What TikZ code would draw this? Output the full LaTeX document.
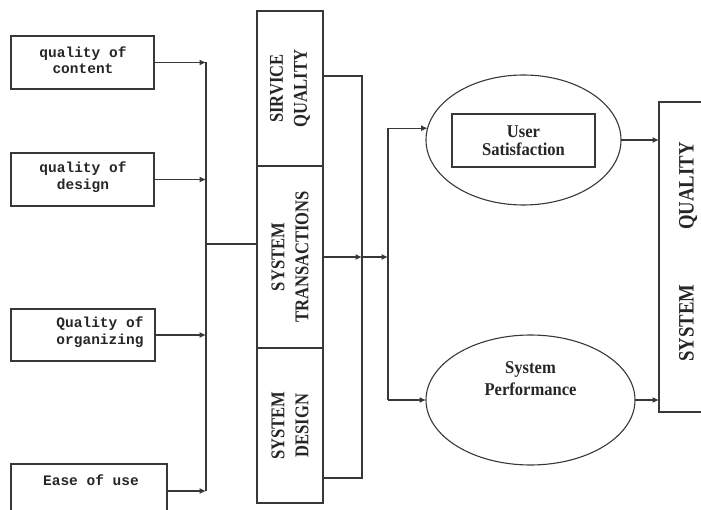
\documentclass[tikz,border=0pt]{standalone}
\usepackage{fontspec}
\setmainfont{Liberation Serif}
\newfontfamily\boxmono{Liberation Mono}
\newfontfamily\tallserif[FakeStretch=0.85]{Liberation Serif}
\newfontfamily\ovalserif[FakeStretch=0.92]{Liberation Serif}
\usetikzlibrary{arrows.meta,shapes.geometric}

\begin{document}
\begin{tikzpicture}[x=1pt,y=-1pt,
  line/.style={draw=black!78, line width=1.1pt},
  arr/.style={line, -{Latex[length=6.5pt,width=6pt]}},
  inbox/.style={line, rectangle, inner sep=0pt, outer sep=0pt},
  monotext/.style={text=black!85, inner sep=0pt, align=center,
    font=\boxmono\bfseries\fontsize{14.5}{16.5}\selectfont},
  coltext/.style={text=black!85, inner sep=0pt, align=center, rotate=90,
    font=\tallserif\bfseries\fontsize{19.5}{24}\selectfont},
  elltext/.style={text=black!85, inner sep=0pt, align=center,
    font=\ovalserif\bfseries\fontsize{18}{19}\selectfont},
  oval/.style={line, ellipse, inner sep=0pt, outer sep=0pt}
]
\useasboundingbox (0,0) rectangle (701,510);
\clip (0,0) rectangle (701,510);

% input factors on the left
\node[inbox, minimum width=143pt, minimum height=53pt] (q1) at (82.5,62.5) {};
\node[monotext] (q1t) at (83,60) {quality of\\content};
\node[inbox, minimum width=143pt, minimum height=53pt] (q2) at (82.5,179.5) {};
\node[monotext] (q2t) at (83,177) {quality of\\design};
\node[inbox, minimum width=144pt, minimum height=52pt] (q3) at (83,335) {};
\node[monotext] (q3t) at (100,332) {Quality of\\organizing};
\node[inbox, minimum width=156pt, minimum height=70pt] (q4) at (89,499) {};
\node[monotext] (q4t) at (91,480) {Ease of use};
\coordinate (q4out) at (167,491);

% collecting bus
\coordinate (bus) at (206,0);
\draw[arr] (q1.east) -- (q1.east -| bus);
\draw[arr] (q2.east) -- (q2.east -| bus);
\draw[arr] (q3.east) -- (q3.east -| bus);
\draw[arr] (q4out) -- (q4out -| bus);
\draw[line] (q1.east -| bus) -- (q4out -| bus);

% middle column
\node[inbox, minimum width=66pt, minimum height=155pt] (sq) at (290,88.5) {};
\node[coltext] (sqt) at (sq.center) {SIRVICE\\QUALITY};
\node[inbox, minimum width=66pt, minimum height=182pt] (st) at (290,257) {};
\node[coltext] (stt) at (st.center) {SYSTEM\\TRANSACTIONS};
\node[inbox, minimum width=66pt, minimum height=155pt] (sd) at (290,425.5) {};
\node[coltext] (sdt) at (sd.center) {SYSTEM\\DESIGN};

\draw[line] (bus |- 0,244) -- ([yshift=13pt]st.west);

% bracket on the right of the column
\coordinate (brk) at (362,0);
\coordinate (fork) at (388,0);
\draw[line] ([yshift=12.5pt]sq.east) -| (brk |- 0,478) -- ([yshift=-52.5pt]sd.east);
\draw[arr] (st.east) -- (st.east -| brk);
\draw[arr] (st.east -| brk) -- (st.east -| fork);

% outcomes
\node[oval, minimum width=195pt, minimum height=130pt] (us) at (523.5,140) {};
\node[inbox, minimum width=143pt, minimum height=53pt, elltext, font=\ovalserif\bfseries\fontsize{18}{18.5}\selectfont] (ust) at (523.5,140.5) {User\\Satisfaction};
\node[oval, minimum width=209pt, minimum height=130pt] (sp) at (530.5,400) {};
\node[elltext, font=\ovalserif\bfseries\fontsize{18}{22}\selectfont] (spt) at (530.5,379) {System\\Performance};

\draw[line] (fork |- us.173) -- (fork |- sp.west);
\draw[arr] (fork |- us.173) -- (us.173);
\draw[arr] (fork |- sp.west) -- (sp.west);

% result box
\node[inbox, minimum width=60pt, minimum height=310pt] (sys) at (689,257) {};
\node[text=black!85, inner sep=0pt, rotate=90, font=\tallserif\bfseries\fontsize{22}{24}\selectfont] (syst) at (688,252) {SYSTEM\hspace{55pt}QUALITY};

\draw[arr] (us.east) -- (us.east -| sys.west);
\draw[arr] (sp.east) -- (sp.east -| sys.west);
\end{tikzpicture}
\end{document}
